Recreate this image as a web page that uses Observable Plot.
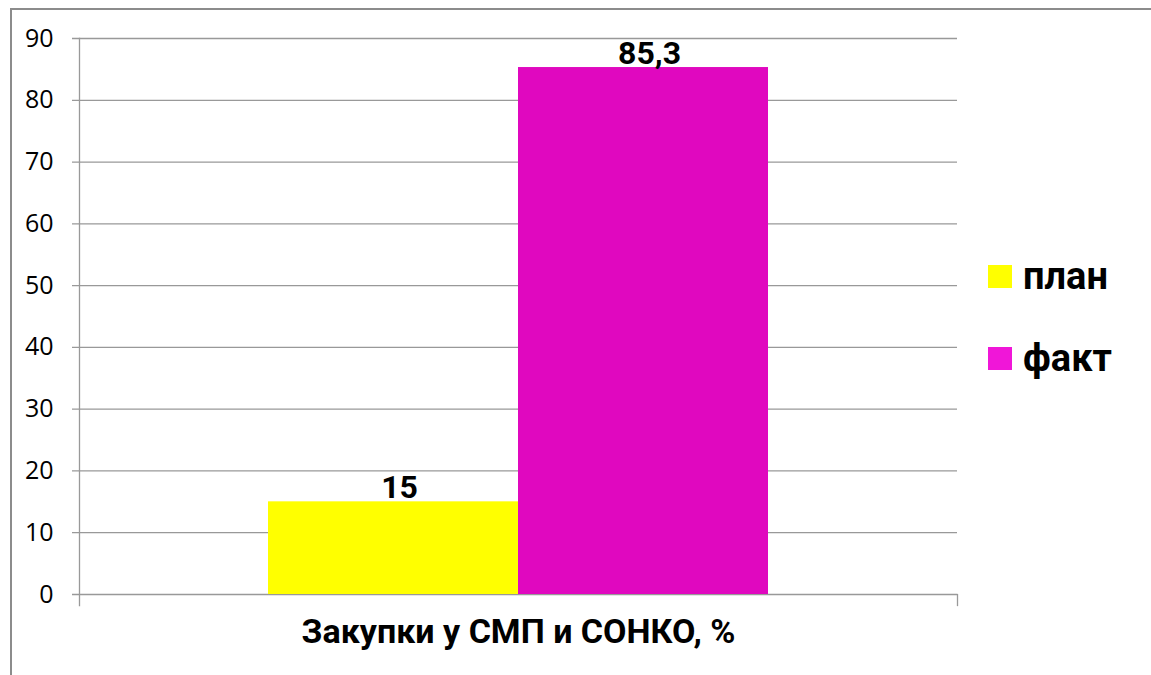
<!DOCTYPE html>
<html>
<head>
<meta charset="utf-8">
<script src="https://cdn.jsdelivr.net/npm/d3@7"></script>
<script src="https://cdn.jsdelivr.net/npm/@observablehq/plot@0.6"></script>
<style>
  html, body { margin: 0; padding: 0; background: #fff; }
  #wrap { position: relative; width: 1151px; height: 675px; overflow: hidden; }
  #border { position: absolute; left: 10px; top: 8px; width: 1300px; height: 800px;
            border-left: 2px solid #8c8c8c; border-top: 2px solid #8c8c8c; }
  #chart { position: absolute; left: 0; top: 0; }
  .leg { position: absolute; left: 988px; display: flex; align-items: center;
         font-family: Roboto, sans-serif; font-weight: bold; font-size: 38px; color: #000; }
  .leg .sw { width: 24px; height: 23px; margin-right: 11px; }
</style>
</head>
<body>
<div id="wrap">
  <div id="border"></div>
  <div id="chart"></div>
  <div id="legend"></div>
</div>
<script>
const series = ["план", "факт"];
const values = [15, 85.3];
const barColors = ["#FFFF00", "#E008BF"];
const legendColors = ["#FFFF00", "#F016D8"];
const yTicks = [0, 10, 20, 30, 40, 50, 60, 70, 80, 90];
const categoryTitle = "Закупки у СМП и СОНКО, %";

const data = series.map((s, i) => ({series: s, value: values[i], label: String(values[i]).replace(".", ",")}));

const plot = Plot.plot({
  width: 1151,
  height: 675,
  marginLeft: 79,
  marginRight: 194,
  marginTop: 38,
  marginBottom: 81,
  x: {domain: series, paddingInner: 0, paddingOuter: 0.75, axis: null},
  y: {domain: [0, 90], axis: null},
  color: {domain: series, range: barColors},
  style: {background: "transparent"},
  marks: [
    Plot.ruleY(yTicks, {stroke: "#999", strokeWidth: 1.3, insetLeft: -7}),
    Plot.barY(data, {x: "series", y: "value", fill: "series"}),
    Plot.text(yTicks, {y: d => d, text: d => String(d), frameAnchor: "left", textAnchor: "end",
                       dx: -26, fontSize: 25, fontFamily: "Open Sans", fill: "#000"}),
    Plot.frame({anchor: "left", insetBottom: -11, stroke: "#999", strokeWidth: 1.3}),
    Plot.frame({anchor: "right", insetTop: 556, insetBottom: -11, stroke: "#999", strokeWidth: 1.3}),
    Plot.text(data, {x: "series", y: "value", text: "label", dx: 6, dy: -4, lineAnchor: "bottom",
                     fontSize: 32, fontWeight: "bold", fontFamily: "Roboto", fill: "#000"}),
    Plot.text([categoryTitle], {frameAnchor: "bottom", dy: 48, fontSize: 34, fontWeight: "bold",
                                fontFamily: "Roboto", fill: "#000"})
  ]
});
document.getElementById("chart").appendChild(plot);

const legend = document.getElementById("legend");
const tops = [254, 336];
series.forEach((s, i) => {
  const row = document.createElement("div");
  row.className = "leg";
  row.style.top = tops[i] + "px";
  const sw = document.createElement("div");
  sw.className = "sw";
  sw.style.background = legendColors[i];
  const t = document.createElement("span");
  t.textContent = s;
  row.appendChild(sw);
  row.appendChild(t);
  legend.appendChild(row);
});
</script>
</body>
</html>
